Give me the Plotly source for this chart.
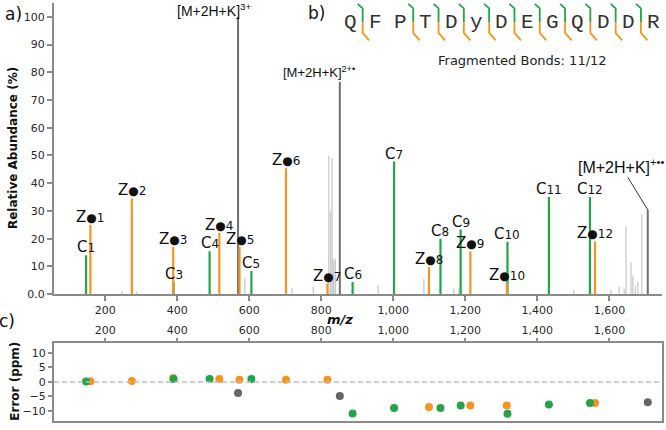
import plotly.graph_objects as go

# ---------------- data ----------------
c_num = [1, 3, 4, 5, 6, 7, 8, 9, 10, 11, 12]
c_mz = [147, 390, 490, 606, 887, 1002, 1131, 1187, 1317, 1432, 1546]
c_int = [14.0, 4.5, 15.5, 8.3, 4.4, 47.8, 20.0, 23.3, 18.8, 35.0, 35.0]
c_err = [0.1, 1.0, 1.0, 1.0, -10.9, -9.0, -9.0, -8.1, -11.0, -7.8, -7.3]

z_num = [1, 2, 3, 4, 5, 6, 7, 8, 9, 10, 12]
z_mz = [159, 274, 389, 517, 573, 702, 817, 1099, 1214, 1315, 1560]
z_int = [25.0, 34.5, 17.0, 22.0, 17.0, 45.4, 3.8, 9.7, 15.4, 4.0, 19.0]
z_err = [0.2, 0.3, 1.3, 1.0, 0.7, 0.7, 0.7, -8.7, -8.1, -8.1, -7.3]

p_charge = ["3+", "2+•", "+••"]
p_mz = [569, 851.5, 1706.5]
p_int = [100.0, 76.6, 30.4]
p_err = [-3.8, -4.9, -7.0]

u_mz = [247, 288, 588, 719, 778, 821, 826, 830, 832, 835, 839, 958, 1085, 1168,
        1182, 1501, 1604, 1627, 1641, 1646, 1660, 1665, 1672, 1679, 1690]
u_int = [1.0, 1.0, 5.7, 2.2, 2.6, 49.9, 29.8, 49.0, 12.8, 12.0, 12.8, 3.4, 5.6, 2.0,
         2.0, 1.5, 1.5, 2.8, 2.0, 24.5, 11.5, 6.7, 2.8, 4.4, 28.6]

sequence = "QFPTDyDEGQDDR"
fragmented_bonds = [0, 2, 3, 4, 5, 6, 7, 8, 9, 10, 11]

y_ticks = [0, 10, 20, 30, 40, 50, 60, 70, 80, 90, 100]
y_ticktext = ["0.0", "10", "20", "30", "40", "50", "60", "70", "80", "90", "100"]
err_ticks = [-10, -5, 0, 5, 10]

# ---------------- styling ----------------
W, H = 666, 430
GREEN = "#22a548"
ORANGE = "#f7941d"
DARK = "#6e6e6e"
LIGHT = "#cacaca"
AXIS = "#8a8a8a"
TXT = "#2a2a2a"
FONT = "DejaVu Sans"


def px(x):
    return x / W


def py(y):
    return 1 - y / H


def stems(xs, ys):
    sx, sy = [], []
    for a, b in zip(xs, ys):
        sx += [a, a, None]
        sy += [0, b, None]
    return sx, sy


fig = go.Figure()

for xs, ys, col, w in [(u_mz, u_int, LIGHT, 1.3), (p_mz, p_int, DARK, 2.0),
                       (c_mz, c_int, GREEN, 2.2), (z_mz, z_int, ORANGE, 2.2)]:
    sx, sy = stems(xs, ys)
    fig.add_trace(go.Scatter(x=sx, y=sy, mode="lines", line=dict(color=col, width=w),
                             xaxis="x", yaxis="y", hoverinfo="skip", showlegend=False))

for xs, ys, col in [(p_mz, p_err, "#666666"), (z_mz, z_err, ORANGE), (c_mz, c_err, GREEN)]:
    fig.add_trace(go.Scatter(x=xs, y=ys, mode="markers",
                             marker=dict(color=col, size=8, line=dict(width=0)),
                             xaxis="x2", yaxis="y2", hoverinfo="skip", showlegend=False))

ann = []
small = '<span style="font-size:12px">%s</span>'
dot = '<span style="font-size:12px">●</span>'
for n, m, v in zip(c_num, c_mz, c_int):
    ann.append(dict(x=m, y=v, xref="x", yref="y", text="C" + small % n, showarrow=False,
                    xanchor="center", yanchor="middle", yshift=8,
                    font=dict(family=FONT, size=15, color="#111")))
for n, m, v in zip(z_num, z_mz, z_int):
    ann.append(dict(x=m, y=v, xref="x", yref="y", text="Z" + dot + small % n, showarrow=False,
                    xanchor="center", yanchor="middle", yshift=8,
                    font=dict(family=FONT, size=15, color="#111")))

ann.append(dict(x=p_mz[0], y=p_int[0], xref="x", yref="y", text="[M+2H+K]<sup>%s</sup>" % p_charge[0],
                showarrow=False, xanchor="center", yanchor="middle", yshift=7, xshift=-24,
                font=dict(family="Liberation Sans", size=14, color="#111")))
ann.append(dict(x=p_mz[1], y=p_int[1], xref="x", yref="y", text="[M+2H+K]<sup>%s</sup>" % p_charge[1],
                showarrow=False, xanchor="center", yanchor="bottom", yshift=0, xshift=-21,
                font=dict(family="Liberation Sans", size=13, color="#111")))
ann.append(dict(x=p_mz[2], y=p_int[2], xref="x", yref="y", text="[M+2H+K]<sup>%s</sup>" % p_charge[2],
                showarrow=True, arrowhead=0, arrowwidth=1, arrowcolor="#333", ax=-27, ay=-44,
                font=dict(family="Liberation Sans", size=16, color="#111")))


def pann(t, x, y, size, **kw):
    d = dict(x=px(x), y=py(y), xref="paper", yref="paper", text=t, showarrow=False,
             xanchor="center", yanchor="middle", font=dict(family=kw.pop("family", FONT), size=size,
                                                          color=kw.pop("color", "#111")))
    d.update(kw)
    ann.append(d)


pann("a)", 13, 14, 17)
pann("b)", 316, 13, 17)
pann("c)", 7, 326, 17)
pann("<b>Relative Abundance (%)</b>", 12.5, 151, 12, textangle=-90)
pann("<b>Error (ppm)</b>", 15, 388, 12, textangle=-90)
pann("<b><i>m/z</i></b>", 340, 325, 13)

x0, step = 350, 25.3
for i, ch in enumerate(sequence):
    pann(ch, x0 + i * step, 23, 21, family="Liberation Mono", color="#333")
pann("Fragmented Bonds: %d/%d" % (len(fragmented_bonds), len(sequence) - 1), 522, 62, 13, color="#222")

shapes = []
for k in fragmented_bonds:
    xv = x0 + (k + 0.5) * step
    shapes.append(dict(type="path", xref="paper", yref="paper",
                       path="M %f %f L %f %f L %f %f" % (px(xv - 5), py(4), px(xv), py(8.5), px(xv), py(22.5)),
                       line=dict(color=GREEN, width=1.8)))
    shapes.append(dict(type="path", xref="paper", yref="paper",
                       path="M %f %f L %f %f L %f %f" % (px(xv), py(22.5), px(xv), py(33.5), px(xv + 6.5), py(41)),
                       line=dict(color=ORANGE, width=1.8)))
shapes.append(dict(type="line", xref="x2 domain", yref="y2", x0=0, x1=1, y0=0, y1=0,
                   line=dict(color="#bdbdbd", width=1.5, dash="5px,3px")))

xdom = [px(54), px(662)]
tickfont = dict(family=FONT, size=11, color=TXT)
fig.update_layout(
    width=W, height=H, margin=dict(l=0, r=0, t=0, b=0), autosize=False,
    paper_bgcolor="white", plot_bgcolor="white",
    xaxis=dict(domain=xdom, range=[58, 1746], anchor="y", showgrid=False, zeroline=False,
               showline=True, linecolor=AXIS, linewidth=2, ticks="outside", ticklen=5,
               tickcolor=AXIS, tickwidth=1.5, dtick=200, tick0=0, tickformat=",", tickfont=tickfont),
    yaxis=dict(domain=[py(299), py(3)], range=[0, 105], anchor="x", showgrid=False, zeroline=False,
               showline=True, linecolor=AXIS, linewidth=2, ticks="outside", ticklen=5,
               tickcolor=AXIS, tickwidth=1.5, tickvals=y_ticks, ticktext=y_ticktext, tickfont=tickfont),
    xaxis2=dict(domain=xdom, range=[58, 1746], anchor="y2", side="top", showgrid=False, zeroline=False,
                showline=True, mirror=True, linecolor=AXIS, linewidth=2, ticks="outside", ticklen=3,
                tickcolor=AXIS, tickwidth=1.5, dtick=200, tick0=0, tickformat=",", tickfont=tickfont),
    yaxis2=dict(domain=[py(428), py(349)], range=[-13.5, 13.3], anchor="x2", showgrid=False,
                zeroline=False, showline=True, mirror=True, linecolor=AXIS, linewidth=2,
                ticks="outside", ticklen=4, tickcolor=AXIS, tickwidth=1.5, tickvals=err_ticks,
                tickfont=tickfont),
    annotations=ann, shapes=shapes,
)

fig.write_html("out.html", config={"displayModeBar": False},
               post_script="document.body.style.margin='0px';document.body.style.overflow='hidden';")
